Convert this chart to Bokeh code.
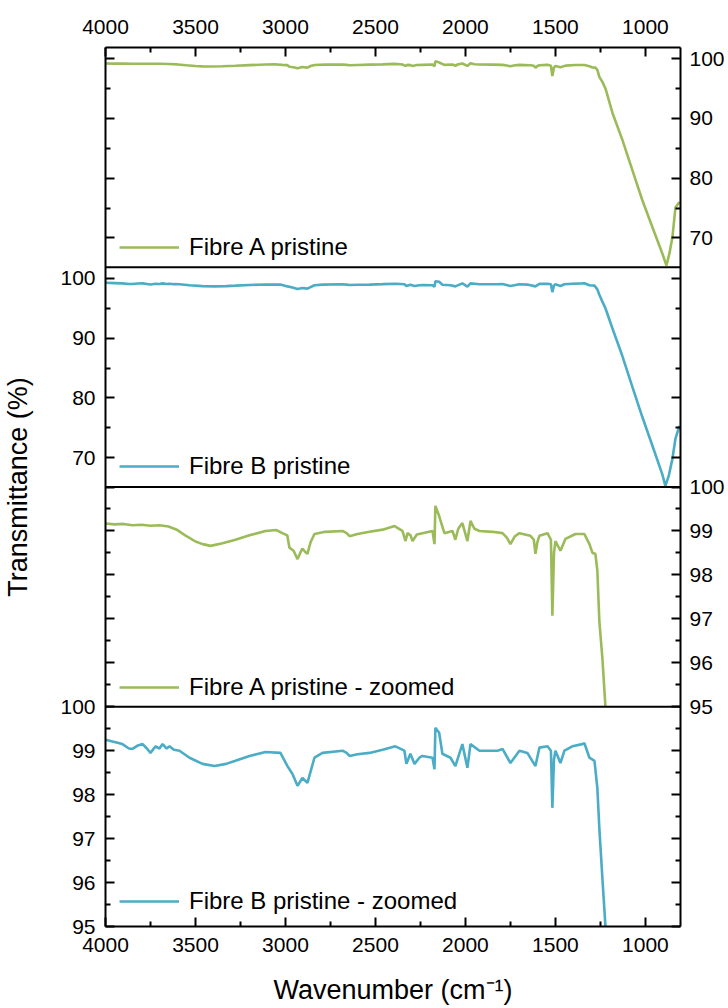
from bokeh.plotting import figure
from bokeh.models import (Range1d, LinearAxis, FixedTicker, CustomJSTickFormatter,
                          Span, Legend, LegendItem)
from bokeh.embed import file_html
from bokeh.resources import INLINE

# ---------------- data ----------------
FIBRE_A_WN = [4000, 3950, 3900, 3850, 3800, 3750, 3700, 3650, 3600, 3550, 3500, 3460, 3416,
              3350, 3278, 3200, 3111, 3050, 3017, 2990, 2978, 2955, 2933, 2918, 2906, 2890,
              2878, 2860, 2839, 2780, 2683, 2660, 2644, 2600, 2533, 2460, 2394, 2350, 2333,
              2322, 2305, 2294, 2270, 2239, 2183, 2172, 2167, 2146, 2117, 2072, 2056, 2040,
              2017, 1989, 1972, 1950, 1922, 1850, 1794, 1770, 1750, 1725, 1700, 1639, 1620,
              1611, 1600, 1589, 1544, 1525, 1517, 1508, 1500, 1472, 1444, 1389, 1339, 1311,
              1294, 1278, 1267, 1256, 1239, 1222, 1183, 1128, 1072, 1017, 961, 906, 883, 866,
              850, 833, 811]
FIBRE_A_T = [99.17, 99.15, 99.16, 99.13, 99.14, 99.12, 99.13, 99.10, 99.02, 98.88, 98.76, 98.70, 98.66,
             98.72, 98.80, 98.90, 99.00, 99.02, 98.95, 98.90, 98.62, 98.55, 98.36, 98.50, 98.60, 98.52,
             98.48, 98.75, 98.93, 98.98, 99.00, 98.95, 98.88, 98.93, 98.98, 99.03, 99.11, 99.00, 98.77,
             98.95, 98.90, 98.77, 98.92, 98.95, 99.00, 98.70, 99.57, 99.34, 98.95, 99.00, 98.80, 99.05,
             99.18, 98.77, 99.23, 99.05, 99.00, 98.98, 98.95, 98.85, 98.70, 98.88, 98.95, 98.89, 98.80,
             98.48, 98.75, 98.89, 98.95, 98.80, 97.07, 98.50, 98.77, 98.55, 98.82, 98.93, 98.93, 98.70,
             98.50, 98.48, 98.10, 96.95, 96.10, 95.00, 90.9, 86.4, 81.3, 76.3, 71.8, 67.4, 65.4, 67.5,
             70.1, 75.1, 76.0]

FIBRE_B_WN = [4000, 3950, 3906, 3870, 3850, 3820, 3794, 3770, 3750, 3722, 3700, 3683, 3660, 3644,
              3620, 3589, 3533, 3461, 3394, 3330, 3278, 3200, 3111, 3028, 2989, 2961, 2933, 2906,
              2878, 2839, 2794, 2683, 2660, 2644, 2600, 2533, 2460, 2389, 2339, 2328, 2306, 2283,
              2256, 2239, 2183, 2172, 2167, 2146, 2128, 2083, 2056, 2017, 1989, 1972, 1922, 1822,
              1794, 1750, 1700, 1656, 1611, 1589, 1544, 1525, 1517, 1508, 1500, 1472, 1450, 1406,
              1350, 1339, 1311, 1283, 1267, 1256, 1239, 1222, 1183, 1128, 1072, 1017, 961, 906,
              889, 870, 850, 833, 811]
FIBRE_B_T = [99.25, 99.20, 99.15, 99.05, 99.04, 99.12, 99.15, 99.05, 98.95, 99.10, 99.05, 99.15, 99.05, 99.10,
             99.02, 99.00, 98.84, 98.70, 98.65, 98.70, 98.77, 98.88, 98.97, 98.95, 98.65, 98.47, 98.20, 98.38,
             98.27, 98.84, 98.95, 99.00, 98.95, 98.88, 98.92, 98.95, 99.02, 99.10, 99.00, 98.70, 98.93, 98.70,
             98.84, 98.88, 98.84, 98.58, 99.52, 99.41, 98.93, 98.84, 98.65, 99.15, 98.61, 99.15, 99.00, 99.00,
             99.04, 98.72, 99.00, 98.95, 98.65, 99.07, 99.10, 99.00, 97.70, 98.80, 99.00, 98.72, 99.00, 99.10,
             99.15, 99.17, 98.84, 98.77, 98.15, 97.24, 96.10, 95.00, 91.6, 87.0, 81.8, 76.8, 72.0, 67.2,
             65.3, 67.0, 69.8, 73.2, 75.3]

LABELS = ["Fibre A pristine", "Fibre B pristine",
          "Fibre A pristine - zoomed", "Fibre B pristine - zoomed"]

X_MAJOR = [4000, 3500, 3000, 2500, 2000, 1500, 1000]
X_MINOR = [3750, 3250, 2750, 2250, 1750, 1250]
FULL_MAJOR = [70, 80, 90, 100]
FULL_MINOR = [75, 85, 95]
ZOOM_MAJOR = [95, 96, 97, 98, 99, 100]
ZOOM_MINOR = [95.5, 96.5, 97.5, 98.5, 99.5]

X_LIMITS = (4000, 805)
FULL_LIMITS = (65.1, 101.85)
ZOOM_LIMITS = (95.0, 100.0)

GREEN = "#9BBB59"
BLUE = "#4BACC6"
FONT = "Liberation Sans"

# ---------------- figure ----------------
p = figure(frame_width=575, frame_height=879, min_border_left=95, min_border_right=50,
           min_border_top=47, min_border_bottom=78, output_backend="svg",
           toolbar_location=None, x_range=Range1d(*X_LIMITS), y_range=Range1d(0, 4))
p.outline_line_color = None
p.xgrid.visible = False
p.ygrid.visible = False

# panels: (base in global units, limits, majors, minors, labelled on left, labelled on right)
panels = {
    "full_a": (3, FULL_LIMITS, FULL_MAJOR, FULL_MINOR, False, True),
    "full_b": (2, FULL_LIMITS, FULL_MAJOR, FULL_MINOR, True, False),
    "zoom_a": (1, ZOOM_LIMITS, ZOOM_MAJOR, ZOOM_MINOR, False, True),
    "zoom_b": (0, ZOOM_LIMITS, ZOOM_MAJOR, ZOOM_MINOR, True, False),
}

for name, (base, (lo, hi), _, _, _, _) in panels.items():
    span = hi - lo
    p.extra_y_ranges[name] = Range1d(lo - base * span, lo + (4 - base) * span)


def ticks_for(side):
    labs = {}
    minors = []
    for name, (base, (lo, hi), majors, mins, lab_left, lab_right) in panels.items():
        labelled = lab_left if side == "left" else lab_right
        for v in majors:
            g = round(base + (v - lo) / (hi - lo), 6)
            txt = str(v) if labelled else ""
            if g not in labs or txt:
                labs[g] = txt
        for v in mins:
            minors.append(base + (v - lo) / (hi - lo))
    pos = sorted(labs)
    return pos, [labs[k] for k in pos], minors


def style_axis(ax):
    ax.axis_line_width = 2
    ax.axis_line_color = "black"
    ax.major_tick_line_width = 2
    ax.minor_tick_line_width = 2
    ax.major_tick_in = 9
    ax.major_tick_out = 0
    ax.minor_tick_in = 5
    ax.minor_tick_out = 0
    ax.major_label_text_font = FONT
    ax.major_label_text_font_size = "21px"
    ax.major_label_text_color = "black"
    ax.axis_label_text_font = FONT
    ax.axis_label_text_font_size = "27px"
    ax.axis_label_text_font_style = "normal"
    ax.axis_label_text_color = "black"


JS = """
let best = ""; let bd = Infinity;
for (let i = 0; i < pos.length; i++) {
  const d = Math.abs(pos[i] - tick);
  if (d < bd) { bd = d; best = labs[i]; }
}
return best;
"""

# y axes
lpos, llabs, lmin = ticks_for("left")
yl = p.yaxis[0]
yl.ticker = FixedTicker(ticks=lpos, minor_ticks=lmin)
yl.formatter = CustomJSTickFormatter(args=dict(pos=lpos, labs=llabs), code=JS)
yl.axis_label = "Transmittance (%)"
yl.axis_label_standoff = 24
yl.major_label_standoff = 10
style_axis(yl)

rpos, rlabs, rmin = ticks_for("right")
yr = LinearAxis(ticker=FixedTicker(ticks=rpos, minor_ticks=rmin),
                formatter=CustomJSTickFormatter(args=dict(pos=rpos, labs=rlabs), code=JS))
yr.major_label_standoff = 9
style_axis(yr)
p.add_layout(yr, "right")

# x axes
xb = p.xaxis[0]
xb.ticker = FixedTicker(ticks=X_MAJOR, minor_ticks=X_MINOR)
xb.axis_label = "Wavenumber (cm\u207b\u00b9)"
xb.axis_label_standoff = 20
xb.major_label_standoff = 11
style_axis(xb)

xt = LinearAxis(ticker=FixedTicker(ticks=X_MAJOR, minor_ticks=X_MINOR))
xt.major_label_standoff = 14
style_axis(xt)
p.add_layout(xt, "above")

# panel separators
for g in (1, 2, 3):
    p.add_layout(Span(location=g, dimension="width", line_color="black", line_width=2))

# lines
ra = p.line(FIBRE_A_WN, FIBRE_A_T, y_range_name="full_a", line_color=GREEN, line_width=2.6)
rb = p.line(FIBRE_B_WN, FIBRE_B_T, y_range_name="full_b", line_color=BLUE, line_width=2.6)
za = [(w, t) for w, t in zip(FIBRE_A_WN, FIBRE_A_T) if t >= ZOOM_LIMITS[0]]
zb = [(w, t) for w, t in zip(FIBRE_B_WN, FIBRE_B_T) if t >= ZOOM_LIMITS[0]]
rza = p.line([w for w, _ in za], [t for _, t in za], y_range_name="zoom_a",
             line_color=GREEN, line_width=2.6)
rzb = p.line([w for w, _ in zb], [t for _, t in zb], y_range_name="zoom_b",
             line_color=BLUE, line_width=2.6)

# legends (one per panel)
legend_y = [665, 446, 225, 11]
for rend, lab, ly in zip([ra, rb, rza, rzb], LABELS, legend_y):
    leg = Legend(items=[LegendItem(label=lab, renderers=[rend])], location=(14, ly),
                 border_line_alpha=0, background_fill_alpha=0, padding=0, margin=0,
                 spacing=0, glyph_width=60, glyph_height=26, label_height=26,
                 label_standoff=10, label_text_font=FONT, label_text_font_size="24px",
                 label_text_color="black")
    p.add_layout(leg)

open("out.html", "w").write(file_html(p, INLINE))
